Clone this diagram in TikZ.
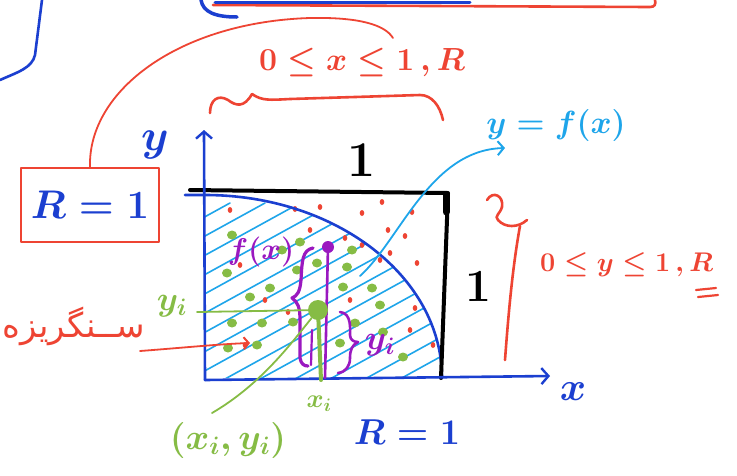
\RequirePackage{fix-cm}
\documentclass[tikz,border=0pt]{standalone}
\usepackage{fontspec}
\usetikzlibrary{arrows.meta}
\TeXXeTstate=1
\newfontfamily\arabicfont[Script=Arabic]{DejaVu Sans}
\definecolor{mred}{HTML}{EE4433}
\definecolor{mblue}{HTML}{1B3FD0}
\definecolor{mcyan}{HTML}{1EA5EA}
\definecolor{mgreen}{HTML}{86BC45}
\definecolor{mpurple}{HTML}{9A18C0}
\begin{document}
\begin{tikzpicture}[x=1pt,y=-1pt,line cap=round,line join=round,
  pen/.style={line width=2.6pt},
  thinpen/.style={line width=1.8pt},
  hand/.style={inner sep=0pt,font=\boldmath},
  tip/.style={-{Straight Barb[length=7pt,width=16pt,line width=2.4pt]}},
  rdot/.style={fill=mred,draw=none},
  gdot/.style={fill=mgreen,draw=none}]
\useasboundingbox (0,0) rectangle (737,475);
\fill[white] (0,0) rectangle (737,475);

% ---- top remnants
\draw[mblue,pen] (42,0) -- (35,55) .. controls (32,68) and (18,72) .. (0,80);
\draw[mred,pen] (213,5) -- (650,7) .. controls (655,7) and (656,4) .. (655,0);
\draw[mblue,line width=3.5pt] (201,0) .. controls (203,12) and (215,17) .. (237,17);
\draw[mblue,line width=3pt] (215,2) -- (470,2);

% ---- R=1 box and arc
\node[hand,draw=mred,line width=2.6pt,text=mblue,minimum width=138pt,minimum height=74pt,
  font=\fontsize{40}{44}\selectfont\boldmath] (rbox) at (90,205) {$R=1$};
\coordinate (arcend) at (393,38);
\draw[mred,thinpen] (rbox.north) .. controls (88,90) and (180,22) .. (310,18)
   .. controls (360,17) and (385,25) .. (arcend);
\node[hand,text=mred,font=\fontsize{32}{36}\selectfont\boldmath] (xlab) at (362,62) {$0\leq x\leq 1\,,R$};
\draw[mred,pen] (210,113) .. controls (210,100) and (218,94) .. (228,100)
   .. controls (236,106) and (244,108) .. (252,94) .. controls (262,101) and (270,100) .. (290,99) -- (420,95)
   .. controls (432,95) and (440,106) .. (443,120);

% ---- hatching under curve
\begin{scope}
\clip (205,378) -- (205,195) arc[start angle=-90,end angle=0,x radius=237,y radius=183] -- cycle;
\foreach \k in {-12,...,8} \draw[mcyan,line width=1.6pt] (205+\k*35,390) -- ++(340,-187);
\end{scope}

% ---- dots
\foreach \p in {(320,207),(295,209),(382,202),(362,213),(412,212),(388,230),(345,238),
  (362,245),(417,263),(390,253),(415,308),(433,345),(410,330),(230,210),(310,230),
  (240,265),(265,300),(380,260),(245,345),(288,312),(350,300),(405,236)}
  \fill[rdot] \p ellipse[x radius=2.3pt,y radius=3pt];
\foreach \p in {(232,235),(227,273),(250,297),(270,288),(232,323),(262,323),(257,345),
  (228,348),(300,242),(282,250),(297,270),(317,263),(347,267),(343,287),(372,288),
  (355,323),(383,332),(340,343),(403,357),(293,322),(380,305),(352,250)}
  \fill[gdot] \p ellipse[x radius=5pt,y radius=4.5pt];

% ---- quarter curve
\draw[mblue,pen] (185,195) -- (205,195) arc[start angle=-90,end angle=0,x radius=237,y radius=183];

% ---- square
\node[hand,font=\fontsize{50}{54}\selectfont\bfseries] (one1) at (362,160) {1};
\node[hand,font=\fontsize{46}{50}\selectfont\bfseries] (one2) at (478,286) {1};
\coordinate (sqtl) at (190,190);
\coordinate (sqtr) at (448,193);
\coordinate (sqbr) at (441,378);
\draw[black,line width=4pt] (sqtl) -- (sqtr) -- (sqbr);
\draw[black,line width=7pt] (446,195) -- (446,212);

% ---- axes
\coordinate (origin) at (205,380);
\coordinate (ytip) at (204,130);
\coordinate (xtip) at (550,376);
\draw[mblue,pen,tip] (origin) -- (ytip);
\draw[mblue,pen,tip] (origin) -- (xtip);
\node[hand,text=mblue,font=\fontsize{44}{48}\selectfont\boldmath] (ylab) at (155,145) {$y$};
\node[hand,text=mblue,font=\fontsize{40}{44}\selectfont\boldmath] (xlab2) at (573,392) {$x$};
\node[hand,text=mblue,font=\fontsize{36}{40}\selectfont\boldmath] (rbot) at (407,432) {$R=1$};

% ---- y=f(x)
\node[hand,text=mcyan,font=\fontsize{32}{36}\selectfont\boldmath] (fx) at (556,125) {$y=f(x)$};
\coordinate (oncurve) at (360,276);
\draw[mcyan,thinpen,-{Straight Barb[length=6pt,width=14pt,line width=2pt]}]
  (oncurve) .. controls (400,240) and (430,150) .. (505,148);

% ---- right brace
\draw[mred,pen] (487,200) .. controls (493,190) and (504,196) .. (502,207)
  .. controls (500,214) and (494,216) .. (498,220) .. controls (505,228) and (518,228) .. (527,220);
\draw[mred,pen] (520,226) .. controls (512,270) and (508,320) .. (505,360);
\node[hand,text=mred,font=\fontsize{27}{30}\selectfont\boldmath,anchor=west] (ylab3) at (540,265) {$0\leq y\leq 1\,,R$};
\draw[mred,line width=2.2pt] (696,290) -- (716,288) (698,297) -- (718,295);

% ---- purple
\coordinate (pbot) at (325,378);
\node[circle,fill=mpurple,inner sep=0pt,minimum size=12pt] (pdot) at (328,247) {};
\draw[mpurple,pen] (pdot.center) -- (pbot);
\draw[mpurple,line width=3.2pt] (313,248) .. controls (302,250) and (302,262) .. (301,280)
  .. controls (300,292) and (297,296) .. (292,298) .. controls (298,302) and (300,308) .. (300,320)
  -- (300,358) .. controls (301,364) and (304,366) .. (308,366);
\draw[mpurple,line width=2.2pt] (312,330) -- (311,365);
\draw[mpurple,pen] (340,312) .. controls (352,313) and (350,330) .. (350,335)
  .. controls (350,340) and (354,342) .. (358,342) .. controls (352,345) and (350,350) .. (350,358)
  .. controls (350,366) and (346,372) .. (338,373);
\node[hand,text=mpurple,font=\fontsize{30}{34}\selectfont\boldmath] (pfx) at (261,252) {$f(x)$};
\node[hand,text=mpurple,font=\fontsize{34}{38}\selectfont\boldmath] (pyi) at (380,345) {$y_{i}$};

% ---- green
\node[circle,fill=mgreen,inner sep=0pt,minimum size=20pt] (gdot) at (318,310) {};
\coordinate (gax) at (321,380);
\draw[mgreen,line width=4pt] (gdot.center) -- (gax);
\node[hand,text=mgreen,font=\fontsize{34}{38}\selectfont\boldmath] (gyi) at (172,306) {$y_{i}$};
\node[hand,text=mgreen,font=\fontsize{26}{30}\selectfont\boldmath] (gxi) at (319,404) {$x_{i}$};
\node[hand,text=mgreen,font=\fontsize{36}{40}\selectfont\boldmath] (gpt) at (228,440) {$(x_{i},y_{i})$};
\draw[mgreen,thinpen] (197,312) -- (gdot);
\draw[mgreen,thinpen] (gdot) .. controls (290,345) and (260,385) .. (212,413);

% ---- persian note
\node[hand,text=mred,font=\fontsize{34}{38}\selectfont] (fa) at (74,326) {\arabicfont\beginR ســنگریزه\endR};
\coordinate (faarrow) at (250,343);
\draw[mred,thinpen,-{Straight Barb[length=5pt,width=12pt,line width=2pt]}] (140,351) .. controls (180,348) and (220,344) .. (faarrow);
\end{tikzpicture}
\end{document}
